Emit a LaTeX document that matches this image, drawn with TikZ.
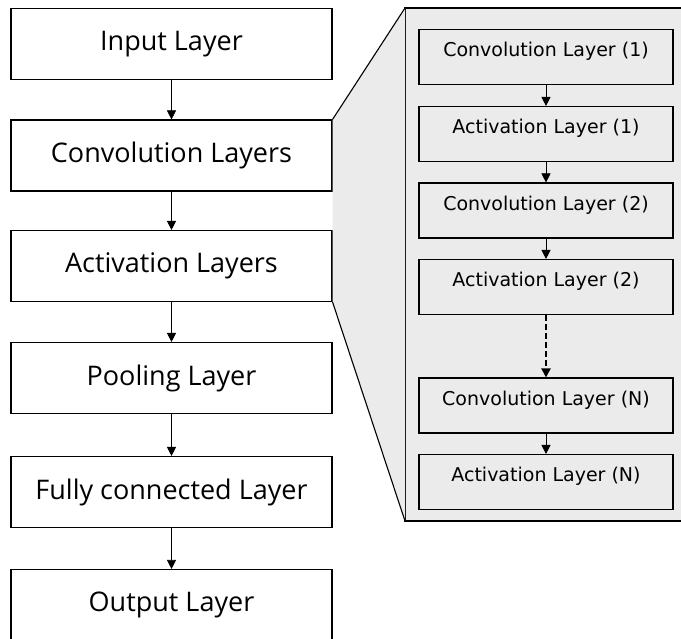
\documentclass[tikz,border=0pt]{standalone}
\usepackage{fontspec}
\setmainfont{Open Sans}
\newfontfamily\subfont{DejaVu Sans}
\usetikzlibrary{arrows.meta}
\tikzset{
  layer/.style={draw, fill=white, line width=1.1pt, minimum width=321pt, minimum height=71pt,
    inner sep=0pt, font=\fontsize{27}{32}\selectfont},
  sublayer/.style={draw, line width=1.1pt, minimum width=254pt, minimum height=55pt,
    inner sep=0pt, text height=14pt, text depth=14pt, font=\subfont\fontsize{19}{23}\selectfont},
  flow/.style={-{Triangle[length=9pt,width=9pt]}, line width=0.6pt},
}
\begin{document}
\begin{tikzpicture}[x=1pt, y=-1pt]
            \useasboundingbox (0,0) rectangle (681,639);
            % zoomed panel
            \coordinate (ptop) at (405,8);
            \coordinate (pbot) at (405,521);
            \draw[fill=black!8, line width=1.6pt] (ptop) rectangle (690,521);
            % main layers
            \node[layer] (input) at (171.5,44) {Input Layer};
            \node[layer] (conv) at (171.5,155.5) {Convolution Layers};
            \node[layer] (act) at (171.5,266) {Activation Layers};
            \node[layer] (pool) at (171.5,378) {Pooling Layer};
            \node[layer] (fc) at (171.5,492) {Fully connected Layer};
            \node[layer] (output) at (171.5,605) {Output Layer};
            \fill[black!8] (conv.north east) -- (ptop) -- (pbot) -- (act.south east) -- cycle;
            \draw[line width=1.1pt] (conv.north east) -- (ptop);
            \draw[line width=1.1pt] (act.south east) -- (pbot);
            \draw[flow] (input) -- (conv);
            \draw[flow] (conv) -- (act);
            \draw[flow] (act) -- (pool);
            \draw[flow] (pool) -- (fc);
            \draw[flow] (fc) -- (output);
            % inside the convolution block
            \node[sublayer] (conva) at (546,57) {Convolution Layer (1)};
            \node[sublayer] (acta) at (546,134) {Activation Layer (1)};
            \node[sublayer] (convb) at (546,210.5) {Convolution Layer (2)};
            \node[sublayer] (actb) at (546,287) {Activation Layer (2)};
            \node[sublayer] (convn) at (546,405.5) {Convolution Layer (N)};
            \node[sublayer] (actn) at (546,482) {Activation Layer (N)};
            \draw[flow] (conva) -- (acta);
            \draw[flow] (acta) -- (convb);
            \draw[flow] (convb) -- (actb);
            \draw[flow, line width=2pt, dash pattern=on 6pt off 3pt] (actb) -- (convn);
            \draw[flow] (convn) -- (actn);
        \end{tikzpicture}
\end{document}
